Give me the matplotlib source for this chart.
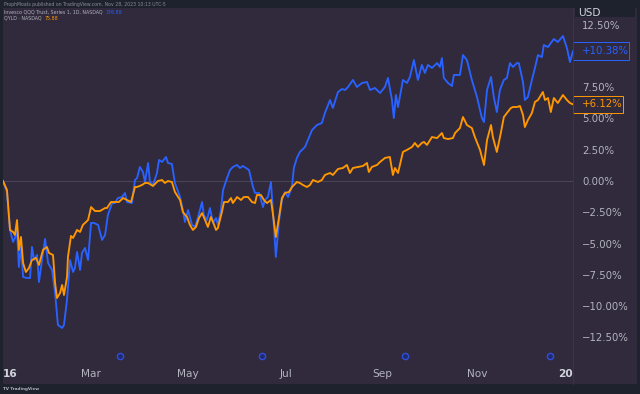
import matplotlib
matplotlib.use('Agg')
import matplotlib.pyplot as plt
from matplotlib.patches import Rectangle
from matplotlib.lines import Line2D
import matplotlib.transforms as mtransforms

# ---------------- data ----------------
# x = trading sessions since the start of the chart, y = % change
qqq_days = [0, 1.7, 3.0, 4.3, 5.1, 6.0, 6.8, 7.7, 8.6, 10.3, 11.6, 12.4, 13.3, 14.6, 15.4,
            16.7, 18.0, 19.3, 21.0, 22.3, 23.5, 25.3, 26.1, 27.4, 28.7, 30.0, 30.8, 31.7,
            33.0, 33.8, 35.1, 36.4, 37.7, 38.9, 40.7, 42.4, 43.7, 44.9, 46.7, 47.9, 49.2,
            50.9, 52.2, 53.1, 55.2, 56.5, 57.4, 58.6, 59.9, 60.8, 62.1, 62.9, 64.2, 65.9,
            66.8, 68.1, 69.8, 70.6, 72.3, 73.6, 75.8, 77.0, 77.9, 79.2, 80.9, 82.2, 83.5,
            85.2, 86.0, 87.3, 88.6, 89.9, 91.2, 92.0, 93.3, 94.2, 95.9, 97.2, 98.4, 100.2,
            101.4, 102.7, 104.0, 105.3, 107.0, 107.9, 109.6, 111.3, 112.1, 113.4, 114.7,
            115.6, 116.8, 118.1, 119.4, 120.7, 122.0, 123.7, 124.5, 125.8, 127.1, 129.3,
            130.5, 132.3, 134.4, 136.5, 137.8, 140.0, 141.2, 143.4, 145.1, 146.4, 147.7,
            149.8, 151.5, 153.7, 155.8, 157.1, 159.2, 161.4, 163.5, 164.8, 166.5, 167.3,
            168.2, 169.1, 171.2, 172.9, 174.2, 175.9, 177.6, 179.3, 180.6, 181.9, 183.6,
            185.8, 187.0, 187.9, 188.7, 190.5, 192.2, 193.0, 195.6, 196.9, 198.6, 200.7,
            202.9, 205.0, 205.9, 207.2, 208.9, 210.1, 211.4, 212.7, 214.4, 215.7, 217.0,
            218.3, 220.0, 220.8, 222.6, 223.4, 224.7, 226.4, 227.7, 229.0, 230.7, 231.5,
            233.3, 234.5, 235.8, 237.5, 239.7, 241.4, 242.7, 244.0]
qqq_pct = [0.00, -0.88, -3.91, -4.87, -4.55, -3.91, -6.87, -5.27, -7.67, -7.75, -7.75, -5.27,
           -6.31, -5.91, -8.07, -6.31, -4.63, -6.55, -7.11, -8.95, -11.50, -11.74, -11.50,
           -9.50, -6.31, -7.27, -6.95, -5.67, -7.11, -5.75, -5.35, -6.31, -3.35, -3.35, -3.51,
           -4.71, -4.31, -2.72, -1.76, -1.76, -1.36, -1.28, -0.96, -1.68, -1.76, 0.08, 0.24,
           1.12, 0.72, -0.08, 1.44, -0.08, -0.32, 0.64, 1.68, 1.52, 1.92, 1.44, 1.36, -0.16,
           -1.28, -2.32, -3.27, -2.32, -3.51, -3.67, -2.88, -1.68, -2.72, -3.12, -2.16, -3.35,
           -2.96, -3.51, -2.32, -0.72, 0.24, 0.88, 1.12, 1.28, 1.04, 1.20, 1.04, 0.88, -0.48,
           -0.96, -0.96, -2.08, -1.52, -1.28, -0.08, -2.56, -6.07, -3.27, -1.52, -0.88, -1.28,
           -0.48, 1.04, 1.84, 2.32, 2.72, 3.27, 4.07, 4.47, 4.63, 5.43, 6.47, 5.83, 7.11, 7.35,
           7.27, 7.51, 8.07, 7.51, 7.83, 7.91, 7.27, 7.43, 7.03, 7.51, 8.23, 6.47, 5.03, 6.87,
           5.91, 8.07, 7.83, 8.31, 9.66, 8.07, 9.27, 8.63, 9.27, 9.03, 9.42, 9.11, 9.82, 8.23,
           7.83, 7.59, 8.47, 8.47, 10.06, 9.66, 8.07, 6.71, 5.03, 4.71, 7.27, 8.31, 6.71, 5.51,
           7.27, 8.07, 8.23, 9.42, 9.11, 9.42, 9.42, 7.91, 6.47, 6.71, 8.07, 9.03, 10.06, 9.90,
           10.86, 10.70, 11.02, 11.34, 11.10, 11.58, 10.62, 9.50, 10.38]

qyld_days = [0, 1.7, 3.0, 4.3, 5.1, 6.0, 6.8, 7.7, 8.6, 9.8, 11.1, 12.4, 14.1, 15.4, 17.1,
             18.8, 19.7, 21.4, 22.3, 23.1, 24.4, 25.3, 26.1, 27.4, 27.8, 29.1, 30.0, 31.7,
             33.0, 34.2, 36.0, 36.4, 37.7, 39.4, 41.5, 43.7, 44.5, 46.2, 47.9, 49.6, 51.4,
             53.1, 54.8, 56.5, 57.4, 59.5, 60.8, 62.1, 64.2, 66.3, 68.1, 69.3, 70.6, 72.3,
             73.6, 75.8, 77.0, 78.8, 80.0, 81.3, 82.6, 83.9, 85.2, 86.5, 87.7, 89.0, 89.9,
             91.2, 92.0, 93.7, 94.6, 96.3, 97.6, 98.4, 100.2, 101.9, 103.1, 104.9, 106.6,
             107.9, 108.7, 110.4, 111.7, 113.0, 114.7, 115.6, 116.8, 118.1, 119.4, 120.7,
             122.4, 123.7, 125.8, 127.1, 128.4, 130.1, 131.4, 132.7, 134.8, 136.5, 137.8,
             140.0, 141.2, 143.4, 145.5, 147.2, 148.5, 149.8, 151.9, 154.1, 155.8, 156.6,
             157.9, 160.1, 161.4, 163.5, 165.6, 166.9, 167.8, 169.1, 171.2, 172.9, 175.1,
             176.3, 177.6, 179.3, 180.2, 181.5, 183.6, 185.8, 187.9, 188.7, 190.5, 192.6,
             193.5, 195.6, 196.9, 198.6, 200.7, 202.0, 204.2, 205.9, 207.2, 208.9, 209.7,
             211.4, 213.1, 214.4, 215.7, 217.4, 218.3, 220.0, 221.3, 222.6, 223.4, 224.7,
             226.4, 227.7, 229.0, 231.1, 232.0, 233.3, 234.5, 235.8, 237.5, 239.7, 241.4,
             242.7, 244.0]
qyld_pct = [0.00, -0.72, -3.91, -4.07, -4.31, -3.12, -5.51, -4.47, -6.55, -7.27, -6.95, -6.31,
            -6.15, -6.71, -5.51, -5.27, -5.75, -5.91, -8.15, -9.35, -8.95, -8.31, -9.11, -7.67,
            -6.07, -4.39, -4.55, -3.91, -4.07, -3.51, -3.19, -3.12, -2.08, -2.40, -2.40, -2.16,
            -2.16, -1.68, -1.68, -1.68, -1.36, -1.52, -1.68, -0.48, -0.48, -0.32, -0.16, -0.16,
            -0.40, 0.00, 0.08, -0.16, 0.00, -0.08, -0.88, -1.52, -2.48, -2.88, -3.51, -3.91,
            -3.67, -2.96, -2.56, -3.12, -3.67, -2.88, -3.27, -3.91, -3.75, -2.48, -1.68, -1.68,
            -1.36, -1.76, -1.28, -1.52, -1.28, -1.28, -1.68, -1.76, -1.12, -1.12, -1.52, -1.76,
            -1.52, -2.72, -4.47, -2.96, -1.36, -0.96, -0.88, -0.48, -0.08, -0.16, -0.32, -0.48,
            -0.32, 0.08, -0.08, 0.08, 0.48, 0.64, 0.48, 0.96, 1.04, 1.28, 0.64, 1.04, 1.12,
            1.20, 1.44, 0.72, 1.12, 1.28, 1.52, 1.84, 1.92, 0.48, 1.04, 0.64, 2.32, 2.48, 2.72,
            3.04, 2.72, 3.04, 3.12, 2.88, 3.51, 3.43, 3.83, 3.43, 3.35, 3.43, 3.83, 4.23, 5.11,
            4.47, 4.23, 3.51, 2.48, 1.28, 3.27, 4.47, 3.51, 2.32, 3.83, 5.11, 5.43, 5.83, 5.91,
            5.91, 5.99, 5.27, 4.31, 4.87, 5.43, 6.31, 6.47, 7.11, 6.47, 6.63, 5.51, 6.63, 6.23,
            6.87, 6.47, 6.23, 6.12]

qqq_last = 10.38
qyld_last = 6.12

xtick_days = [3.0, 37.7, 79.2, 121.1, 162.2, 202.8, 240.6]
xtick_labels = ['16', 'Mar', 'May', 'Jul', 'Sep', 'Nov', '20']
# the 10.00% label sits behind the last-value box in the original, so it is left blank
ytick_values = [-12.5, -10, -7.5, -5, -2.5, 0, 2.5, 5, 7.5, 12.5]
ytick_labels = ['\u221212.50%', '\u221210.00%', '\u22127.50%', '\u22125.00%', '\u22122.50%',
                '0.00%', '2.50%', '5.00%', '7.50%', '12.50%']
event_days = [50, 111, 172, 234]

header = 'ProphMoats published on TradingView.com, Nov 28, 2023 10:13 UTC-5'
legend1_name = 'Invesco QQQ Trust, Series 1, 1D, NASDAQ'
legend1_value = '376.88'
legend2_name = 'QYLD \u00b7 NASDAQ'
legend2_value = '75.88'

# ---------------- styling ----------------
W, H = 640, 394
DARK = '#1e222d'
BG = '#31293c'
BLUE = '#2962ff'
ORANGE = '#ff9800'
TXT = '#b2b5be'

plt.rcParams['font.family'] = ['DejaVu Sans']

fig = plt.figure(figsize=(W / 100, H / 100), dpi=100, facecolor=DARK)
fig.patches.append(Rectangle((3 / W, 1 - 384 / H), 634 / W, 376 / H,
                             transform=fig.transFigure, facecolor=BG,
                             edgecolor='none', zorder=-10))

ax = fig.add_axes([3 / W, 1 - 363 / H, 570 / W, 355 / H])
ax.set_facecolor(BG)
for s in ax.spines.values():
    s.set_visible(False)

ax.axhline(0, color='#4b4458', lw=0.8, zorder=1)
ax.plot(qqq_days, qqq_pct, color=BLUE, lw=1.35, zorder=3, solid_joinstyle='round')
ax.plot(qyld_days, qyld_pct, color=ORANGE, lw=1.35, zorder=3.1, solid_joinstyle='round')

ax.set_xlim(0, 244)
ax.set_ylim(-14.54, 13.82)

# event markers near the bottom
blend_xa = mtransforms.blended_transform_factory(ax.transData, ax.transAxes)
ax.plot(event_days, [0.02] * len(event_days), transform=blend_xa, ls='none',
        marker='o', ms=4.5, mfc='#1f2a6e', mec='#2f4fd6', mew=1.0, clip_on=False, zorder=4)

ax.yaxis.tick_right()
ax.set_yticks(ytick_values)
ax.set_yticklabels(ytick_labels)
ax.tick_params(axis='y', length=0, pad=6.5, labelsize=7.3, labelcolor=TXT)

ax.set_xticks(xtick_days)
ax.set_xticklabels(xtick_labels)
ax.tick_params(axis='x', length=0, pad=4.5, labelsize=7.6, labelcolor=TXT)
for lbl in ax.get_xticklabels():
    if lbl.get_text() in ('16', '20'):
        lbl.set_fontweight('bold')
        lbl.set_color('#d1d4dc')

# separators
fig.add_artist(Line2D([573 / W, 573 / W], [1 - 384 / H, 1 - 8 / H], color='#3c3448', lw=0.6))

# last value boxes
blend_fd = mtransforms.blended_transform_factory(fig.transFigure, ax.transData)
for val, col in ((qqq_last, BLUE), (qyld_last, ORANGE)):
    txt = '+{:.2f}%'.format(val)
    wpx = 56 if val >= 10 else 50
    ax.add_patch(Rectangle((573 / W, val - 0.70), wpx / W, 1.40, transform=blend_fd,
                           facecolor=BG, edgecolor=col, lw=0.7, alpha=1.0,
                           clip_on=False, zorder=5))
    ax.text(582 / W, val, txt, transform=blend_fd, color=col, fontsize=7.3,
            va='center', ha='left', clip_on=False, zorder=6)

# USD label
fig.patches.append(Rectangle((575 / W, 1 - 17 / H), 60 / W, 9 / H, transform=fig.transFigure,
                             facecolor=DARK, edgecolor='none', zorder=2))
fig.text(578 / W, 1 - 12.5 / H, 'USD', color='#d1d4dc', fontsize=7.6, va='center', ha='left')

# header & legend
fig.text(4 / W, 1 - 4.5 / H, header, color='#8a8d96', fontsize=3.3, va='center', ha='left')
t1 = fig.text(4 / W, 1 - 12 / H, legend1_name, color=TXT, fontsize=3.4, va='center', ha='left')
fig.add_artist(plt.Annotation(legend1_value, xy=(1, 0.5), xycoords=t1, xytext=(2, 0),
                              textcoords='offset points', color=BLUE, fontsize=3.4,
                              va='center', ha='left'))
t2 = fig.text(4 / W, 1 - 18 / H, legend2_name, color=TXT, fontsize=3.4, va='center', ha='left')
fig.add_artist(plt.Annotation(legend2_value, xy=(1, 0.5), xycoords=t2, xytext=(2, 0),
                              textcoords='offset points', color=ORANGE, fontsize=3.4,
                              va='center', ha='left'))

# footer
fig.text(3 / W, 1 - 389 / H, 'TV TradingView', color=TXT, fontsize=3.0, va='center', ha='left',
         fontweight='bold')

fig.savefig('out.png', dpi=100, facecolor=DARK)
